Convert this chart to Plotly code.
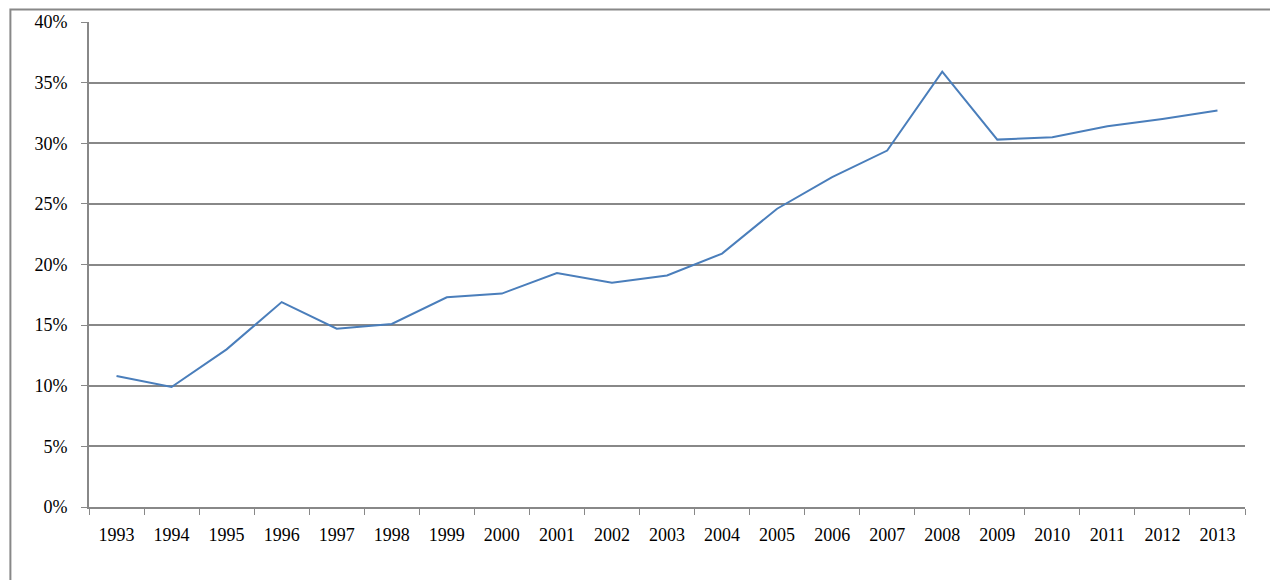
import plotly.graph_objs as go

years = [str(y) for y in range(1993, 2014)]
share = [10.8, 9.9, 13.0, 16.9, 14.7, 15.1, 17.3, 17.6, 19.3, 18.5, 19.1,
         20.9, 24.6, 27.2, 29.4, 35.9, 30.3, 30.5, 31.4, 32.0, 32.7]

fig = go.Figure()
fig.add_trace(go.Scatter(x=years, y=[v / 100 for v in share], mode="lines",
                         line=dict(color="#4a7ebb", width=2)))

fig.update_layout(
    width=1278, height=580, showlegend=False,
    margin=dict(l=81, r=41, t=14, b=81, autoexpand=False),
    plot_bgcolor="white", paper_bgcolor="white",
    font=dict(family="Liberation Serif", size=18, color="black"),
    shapes=[dict(type="rect", xref="paper", yref="paper",
                 x0=-0.068, x1=1.04, y0=-0.3, y1=1.026,
                 line=dict(color="#888888", width=2))],
)
fig.update_xaxes(type="category", range=[-0.5, 20.5], tickson="boundaries",
                 ticks="outside", ticklen=6, tickcolor="#888888", showgrid=False,
                 tickfont=dict(family="Liberation Serif", size=18),
                 ticklabelstandoff=10,
                 showline=True, linecolor="#888888", linewidth=2)
fig.update_yaxes(range=[0, 0.4], dtick=0.05, tickformat=".0%", ticks="outside",
                 ticklen=6, tickcolor="#888888", gridcolor="#888888", gridwidth=2,
                 tickfont=dict(family="Liberation Serif", size=18),
                 ticklabelstandoff=10,
                 showline=True, linecolor="#888888", linewidth=2, zeroline=False)

fig.write_html("out.html")
